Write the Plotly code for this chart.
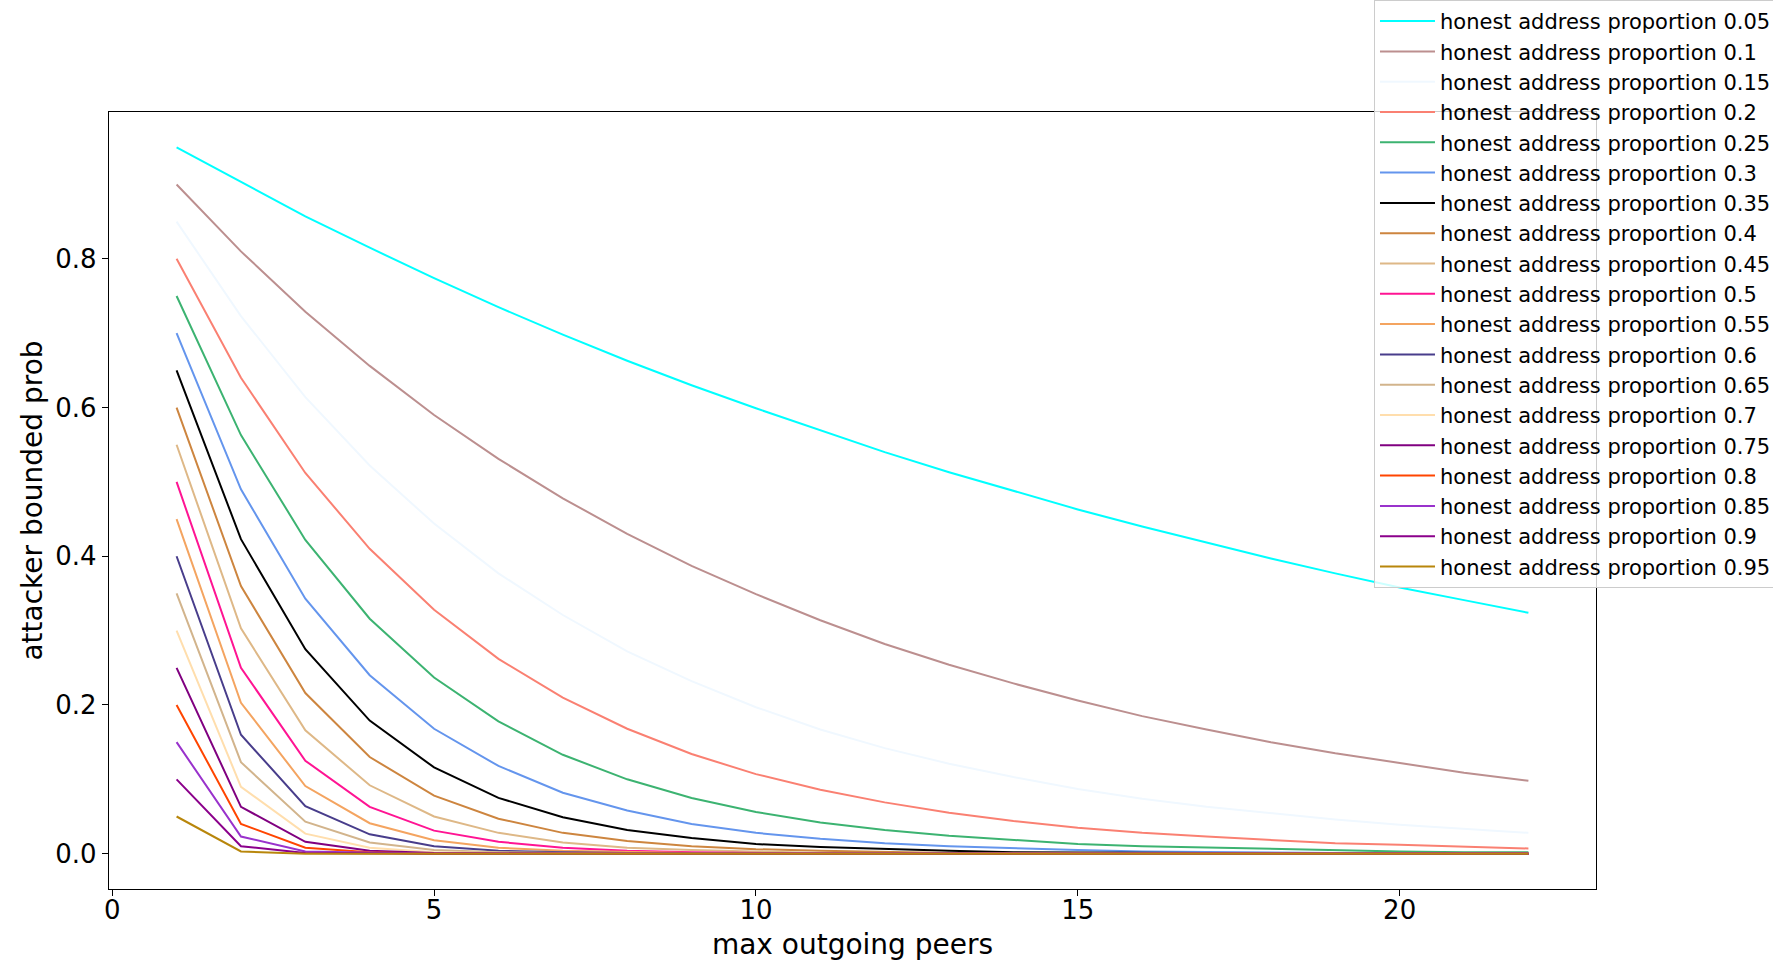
import plotly.graph_objects as go

# max outgoing peers
peers = list(range(1, 23))

proportions = [0.05, 0.1, 0.15, 0.2, 0.25, 0.3, 0.35, 0.4, 0.45, 0.5,
               0.55, 0.6, 0.65, 0.7, 0.75, 0.8, 0.85, 0.9, 0.95]

# attacker bounded prob, one list per honest address proportion
prob_005 = [0.950, 0.903, 0.857, 0.815, 0.774, 0.735, 0.698, 0.663, 0.630, 0.599, 0.569,
            0.540, 0.513, 0.488, 0.463, 0.440, 0.418, 0.397, 0.377, 0.358, 0.341, 0.324]
prob_010 = [0.900, 0.810, 0.729, 0.656, 0.590, 0.531, 0.478, 0.430, 0.387, 0.349, 0.314,
            0.282, 0.254, 0.229, 0.206, 0.185, 0.167, 0.150, 0.135, 0.122, 0.109, 0.098]
prob_015 = [0.850, 0.723, 0.614, 0.522, 0.444, 0.377, 0.321, 0.272, 0.232, 0.197, 0.167,
            0.142, 0.121, 0.103, 0.087, 0.074, 0.063, 0.054, 0.046, 0.039, 0.033, 0.028]
prob_020 = [0.800, 0.640, 0.512, 0.410, 0.328, 0.262, 0.210, 0.168, 0.134, 0.107, 0.086,
            0.069, 0.055, 0.044, 0.035, 0.028, 0.023, 0.018, 0.014, 0.012, 0.009, 0.007]
prob_025 = [0.750, 0.563, 0.422, 0.316, 0.237, 0.178, 0.133, 0.100, 0.075, 0.056, 0.042,
            0.032, 0.024, 0.018, 0.013, 0.010, 0.008, 0.006, 0.004, 0.003, 0.002, 0.002]
prob_030 = [0.700, 0.490, 0.343, 0.240, 0.168, 0.118, 0.082, 0.058, 0.040, 0.028, 0.020,
            0.014, 0.010, 0.007, 0.005, 0.003, 0.002, 0.002, 0.001, 0.001, 0.001, 0.000]
prob_035 = [0.650, 0.423, 0.275, 0.179, 0.116, 0.075, 0.049, 0.032, 0.021, 0.013, 0.009,
            0.006, 0.004, 0.002, 0.002, 0.001, 0.001, 0.000, 0.000, 0.000, 0.000, 0.000]
prob_040 = [0.600, 0.360, 0.216, 0.130, 0.078, 0.047, 0.028, 0.017, 0.010, 0.006, 0.004,
            0.002, 0.001, 0.001, 0.000, 0.000, 0.000, 0.000, 0.000, 0.000, 0.000, 0.000]
prob_045 = [0.550, 0.303, 0.166, 0.092, 0.050, 0.028, 0.015, 0.008, 0.005, 0.003, 0.001,
            0.001, 0.000, 0.000, 0.000, 0.000, 0.000, 0.000, 0.000, 0.000, 0.000, 0.000]
prob_050 = [0.500, 0.250, 0.125, 0.063, 0.031, 0.016, 0.008, 0.004, 0.002, 0.001, 0.000,
            0.000, 0.000, 0.000, 0.000, 0.000, 0.000, 0.000, 0.000, 0.000, 0.000, 0.000]
prob_055 = [0.450, 0.203, 0.091, 0.041, 0.018, 0.008, 0.004, 0.002, 0.001, 0.000, 0.000,
            0.000, 0.000, 0.000, 0.000, 0.000, 0.000, 0.000, 0.000, 0.000, 0.000, 0.000]
prob_060 = [0.400, 0.160, 0.064, 0.026, 0.010, 0.004, 0.002, 0.001, 0.000, 0.000, 0.000,
            0.000, 0.000, 0.000, 0.000, 0.000, 0.000, 0.000, 0.000, 0.000, 0.000, 0.000]
prob_065 = [0.350, 0.123, 0.043, 0.015, 0.005, 0.002, 0.001, 0.000, 0.000, 0.000, 0.000,
            0.000, 0.000, 0.000, 0.000, 0.000, 0.000, 0.000, 0.000, 0.000, 0.000, 0.000]
prob_070 = [0.300, 0.090, 0.027, 0.008, 0.002, 0.001, 0.000, 0.000, 0.000, 0.000, 0.000,
            0.000, 0.000, 0.000, 0.000, 0.000, 0.000, 0.000, 0.000, 0.000, 0.000, 0.000]
prob_075 = [0.250, 0.063, 0.016, 0.004, 0.001, 0.000, 0.000, 0.000, 0.000, 0.000, 0.000,
            0.000, 0.000, 0.000, 0.000, 0.000, 0.000, 0.000, 0.000, 0.000, 0.000, 0.000]
prob_080 = [0.200, 0.040, 0.008, 0.002, 0.000, 0.000, 0.000, 0.000, 0.000, 0.000, 0.000,
            0.000, 0.000, 0.000, 0.000, 0.000, 0.000, 0.000, 0.000, 0.000, 0.000, 0.000]
prob_085 = [0.150, 0.023, 0.003, 0.001, 0.000, 0.000, 0.000, 0.000, 0.000, 0.000, 0.000,
            0.000, 0.000, 0.000, 0.000, 0.000, 0.000, 0.000, 0.000, 0.000, 0.000, 0.000]
prob_090 = [0.100, 0.010, 0.001, 0.000, 0.000, 0.000, 0.000, 0.000, 0.000, 0.000, 0.000,
            0.000, 0.000, 0.000, 0.000, 0.000, 0.000, 0.000, 0.000, 0.000, 0.000, 0.000]
prob_095 = [0.050, 0.003, 0.000, 0.000, 0.000, 0.000, 0.000, 0.000, 0.000, 0.000, 0.000,
            0.000, 0.000, 0.000, 0.000, 0.000, 0.000, 0.000, 0.000, 0.000, 0.000, 0.000]

series = [prob_005, prob_010, prob_015, prob_020, prob_025, prob_030, prob_035,
          prob_040, prob_045, prob_050, prob_055, prob_060, prob_065, prob_070,
          prob_075, prob_080, prob_085, prob_090, prob_095]

# matplotlib named colours
colors = ['#00FFFF', '#BC8F8F', '#F0F8FF', '#FA8072', '#3CB371', '#6495ED', '#000000',
          '#CD853F', '#DEB887', '#FF1493', '#F4A460', '#483D8B', '#D2B48C', '#FFDEAD',
          '#800080', '#FF4500', '#9932CC', '#8B008B', '#B8860B']

font = 'DejaVu Sans'

fig = go.Figure()
for p, ys, c in zip(proportions, series, colors):
    fig.add_trace(go.Scatter(x=peers, y=ys, mode='lines',
                             name=f'honest address proportion {p}',
                             line=dict(color=c, width=2)))

axis_style = dict(showline=True, linecolor='black', linewidth=1.3, mirror=True,
                  showgrid=False, zeroline=False, ticks='outside', ticklen=6,
                  tickwidth=1.3, tickcolor='black',
                  tickfont=dict(family=font, size=26, color='black'))

fig.update_layout(
    width=1773, height=966,
    paper_bgcolor='white', plot_bgcolor='white',
    margin=dict(l=109, r=177, t=112, b=77, autoexpand=False),
    font=dict(family=font, color='black'),
    xaxis=dict(range=[-0.05, 23.05], tickvals=[0, 5, 10, 15, 20],
               ticklabelstandoff=-8,
               title=dict(text='max outgoing peers', font=dict(family=font, size=28),
                          standoff=10),
               **axis_style),
    yaxis=dict(range=[-0.0475, 0.9975], tickvals=[0, 0.2, 0.4, 0.6, 0.8],
               tickformat='.1f',
               title=dict(text='attacker bounded prob', font=dict(family=font, size=28),
                          standoff=4),
               **axis_style),
    legend=dict(x=0.8507, y=1.1442, xanchor='left', yanchor='top',
                maxheight=960, itemwidth=55,
                bgcolor='rgba(255,255,255,0.8)', bordercolor='#cccccc', borderwidth=1,
                font=dict(family=font, size=21, color='black')),
)

# draw the figure flush with the page corner, like the original image
fig.write_html('out.html', config={'displayModeBar': False},
               post_script="document.body.style.margin = '0';")
